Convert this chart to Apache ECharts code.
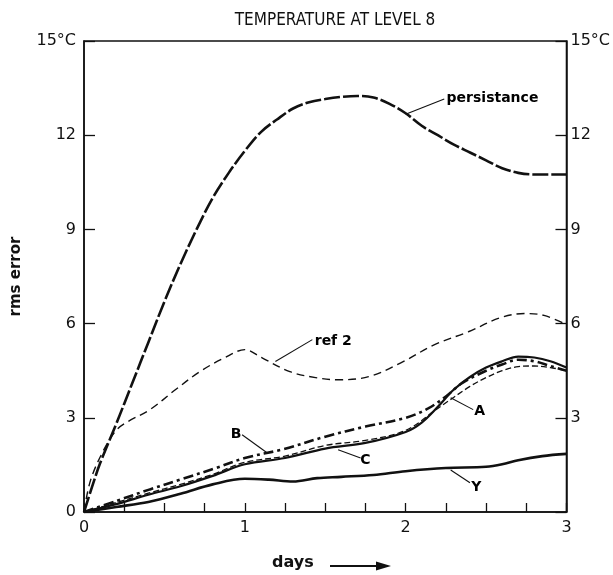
<!DOCTYPE html>
<html>
<head>
<meta charset="utf-8">
<script src="https://cdn.jsdelivr.net/npm/echarts@6/dist/echarts.min.js"></script>
<style>
  html, body { margin: 0; padding: 0; background: #fff; }
  #canvas { width: 613px; height: 575px; }
</style>
</head>
<body>
<div id="canvas"></div>
<script>
// values: [days, rms error °C]
const persistance = [[0, 0], [0.05, 0.8], [0.1, 1.55], [0.2, 2.8], [0.3, 4.1], [0.4, 5.4], [0.5, 6.7], [0.6, 7.9],
  [0.7, 9.0], [0.8, 10.0], [0.9, 10.8], [1.0, 11.5], [1.1, 12.1], [1.2, 12.5], [1.3, 12.85], [1.4, 13.05],
  [1.5, 13.15], [1.6, 13.22], [1.7, 13.25], [1.8, 13.2], [1.9, 13.0], [2.0, 12.7], [2.1, 12.3], [2.2, 12.0],
  [2.3, 11.7], [2.4, 11.45], [2.5, 11.2], [2.6, 10.95], [2.7, 10.8], [2.8, 10.75], [2.9, 10.75], [3.0, 10.75]];
const ref2 = [[0, 0], [0.04, 1.0], [0.12, 1.95], [0.2, 2.6], [0.27, 2.87], [0.41, 3.26], [0.57, 3.9], [0.72, 4.47],
  [0.87, 4.9], [1.0, 5.17], [1.11, 4.9], [1.28, 4.47], [1.44, 4.28], [1.58, 4.21], [1.77, 4.31], [1.97, 4.75],
  [2.18, 5.33], [2.39, 5.74], [2.59, 6.19], [2.74, 6.32], [2.86, 6.26], [3.0, 5.97]];
const seriesA = [[0, 0], [0.2, 0.25], [0.4, 0.55], [0.6, 0.82], [0.8, 1.15], [1.0, 1.52], [1.25, 1.72], [1.5, 2.02],
  [1.75, 2.2], [2.0, 2.55], [2.1, 2.85], [2.2, 3.35], [2.3, 3.9], [2.4, 4.3], [2.5, 4.6], [2.6, 4.8], [2.7, 4.95],
  [2.8, 4.92], [2.9, 4.8], [3.0, 4.6]];
const seriesB = [[0, 0], [0.2, 0.35], [0.41, 0.72], [0.61, 1.05], [0.82, 1.4], [1.0, 1.72], [1.24, 2.0], [1.5, 2.4],
  [1.75, 2.72], [2.0, 3.0], [2.14, 3.3], [2.25, 3.68], [2.35, 4.1], [2.5, 4.5], [2.6, 4.7], [2.7, 4.85],
  [2.8, 4.8], [2.9, 4.65], [3.0, 4.5]];
const seriesC = [[0, 0], [0.2, 0.3], [0.4, 0.6], [0.6, 0.88], [0.8, 1.2], [1.0, 1.58], [1.25, 1.78], [1.5, 2.12],
  [1.75, 2.28], [2.0, 2.6], [2.2, 3.3], [2.4, 4.0], [2.5, 4.28], [2.6, 4.5], [2.7, 4.63], [2.8, 4.65],
  [2.9, 4.6], [3.0, 4.5]];
const seriesY = [[0, 0], [0.2, 0.16], [0.4, 0.32], [0.6, 0.58], [0.8, 0.88], [1.0, 1.06], [1.15, 1.03], [1.3, 0.97],
  [1.45, 1.08], [1.6, 1.12], [1.8, 1.18], [2.0, 1.3], [2.25, 1.4], [2.5, 1.44], [2.6, 1.52], [2.7, 1.65],
  [2.85, 1.78], [3.0, 1.85]];

// curve labels: text centre, leader start, leader end (data coords)
const labelNames = ["persistance", "ref 2", "B", "C", "A", "Y"];
const labelAt = [[2.54, 13.18], [1.55, 5.43], [0.946, 2.46], [1.75, 1.66], [2.46, 3.19], [2.44, 0.8]];
const leaderFrom = [[2.24, 13.15], [1.42, 5.49], [0.983, 2.46], [1.72, 1.72], [2.42, 3.26], [2.4, 0.93]];
const leaderTo = [[2.0, 12.67], [1.19, 4.79], [1.14, 1.88], [1.58, 1.98], [2.28, 3.64], [2.28, 1.34]];

const ink = "#111";
const tickFont = { color: ink, fontSize: 16, fontFamily: "DejaVu Sans" };

function curve (name, data, width, type) {
  return {
    name: name,
    type: "line",
    data: data,
    smooth: 0.35,
    symbol: "none",
    lineStyle: { color: ink, width: width, type: type }
  };
}

const myChart = echarts.init(document.querySelector("#canvas"));
myChart.setOption({
  animation: false,
  backgroundColor: "#fff",
  title: {
    text: "TEMPERATURE AT LEVEL 8",
    left: 330,
    top: 7,
    textAlign: "center",
    textStyle: { color: ink, fontSize: 17, fontWeight: "normal", fontFamily: "Liberation Sans Narrow, DejaVu Sans Condensed, sans-serif" }
  },
  grid: { left: 84, right: 44, top: 41, bottom: 63, show: true, borderColor: ink, borderWidth: 1.5 },
  xAxis: {
    type: "value",
    min: 0,
    max: 3,
    interval: 1,
    axisLine: { lineStyle: { color: ink, width: 1.5 } },
    axisTick: { inside: true, length: 9, lineStyle: { color: ink, width: 1.3 } },
    minorTick: { show: true, splitNumber: 4, length: 9, lineStyle: { color: ink, width: 1.3 } },
    splitLine: { show: false },
    axisLabel: Object.assign({ margin: 8 }, tickFont)
  },
  yAxis: [{
    type: "value",
    min: 0,
    max: 15,
    interval: 3,
    name: "rms error",
    nameLocation: "middle",
    nameGap: 60,
    nameTextStyle: { color: ink, fontSize: 15, fontWeight: "bold", fontFamily: "DejaVu Sans" },
    axisLine: { show: true, lineStyle: { color: ink, width: 1.5 } },
    axisTick: { show: true, inside: true, length: 11, lineStyle: { color: ink, width: 1.3 } },
    splitLine: { show: false },
    axisLabel: Object.assign({ margin: 8, formatter: v => (v === 15 ? "15°C" : String(v)) }, tickFont)
  }, {
    type: "value",
    position: "right",
    min: 0,
    max: 15,
    interval: 3,
    axisLine: { show: true, lineStyle: { color: ink, width: 1.5 } },
    axisTick: { show: true, inside: true, length: 11, lineStyle: { color: ink, width: 1.3 } },
    splitLine: { show: false },
    axisLabel: Object.assign({ margin: 4, formatter: v => (v === 0 ? "" : v === 15 ? "15°C" : String(v)) }, tickFont)
  }],
  graphic: [
    { type: "text", left: 272, top: 555, style: { text: "days", fill: ink, font: "bold 16px DejaVu Sans" } },
    { type: "line", shape: { x1: 330, y1: 566, x2: 380, y2: 566 }, style: { stroke: ink, lineWidth: 2 } },
    { type: "polygon", shape: { points: [[376, 561.5], [391, 566], [376, 570.5]] }, style: { fill: ink } }
  ],
  series: [
    curve("persistance", persistance, 2.6, [16, 3]),
    curve("ref 2", ref2, 1.4, [8, 5]),
    curve("A", seriesA, 2.2, "solid"),
    curve("B", seriesB, 2.6, [10, 4, 3, 4]),
    curve("C", seriesC, 1.3, [6, 3]),
    curve("Y", seriesY, 2.6, "solid"),
    {
      type: "lines",
      coordinateSystem: "cartesian2d",
      silent: true,
      lineStyle: { color: ink, width: 1.1, opacity: 1 },
      data: leaderFrom.map((p, i) => ({ coords: [p, leaderTo[i]] }))
    },
    {
      type: "scatter",
      silent: true,
      symbolSize: 1,
      itemStyle: { color: "transparent", opacity: 1 },
      label: {
        show: true,
        position: "inside",
        formatter: p => p.name,
        color: "#000",
        opacity: 1,
        fontSize: 14,
        fontWeight: "bold",
        fontFamily: "DejaVu Sans"
      },
      data: labelAt.map((p, i) => ({ name: labelNames[i], value: p }))
    }
  ]
});
</script>
</body>
</html>
